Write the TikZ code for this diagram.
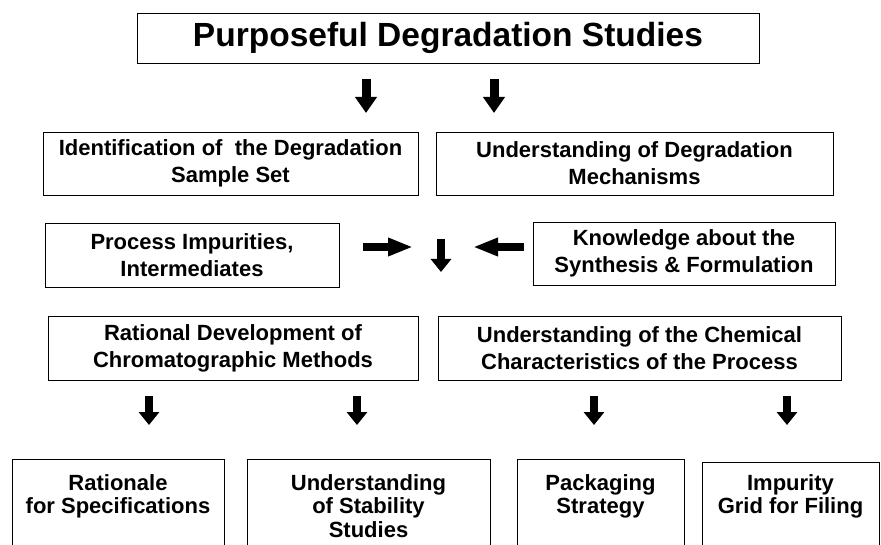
\documentclass[tikz,border=0pt]{standalone}
\usepackage{fontspec}
\setmainfont{Liberation Sans}
\usepackage{tikz}
\usetikzlibrary{arrows.meta, positioning}

\begin{document}
\begin{tikzpicture}[x=1pt, y=-1pt]
            %Block styles
            \tikzstyle{box} = [draw, line width=0.9pt, rectangle, align=center, inner sep=0pt, font=\fontsize{22}{27}\selectfont\bfseries]
            \tikzstyle{lowbox} = [draw, line width=0.9pt, rectangle, anchor=north, minimum height=110pt]
            \tikzstyle{lowtext} = [align=center, inner sep=0pt, font=\fontsize{22}{23.5}\selectfont\bfseries]
            \tikzstyle{headbox} = [box, font=\fontsize{33.5}{38}\selectfont\bfseries]

            %Arrow styles
            \tikzset{dnarrow/.style={line width=9pt, -{Triangle[width=21pt, length=16pt]}}}
            \tikzset{smallarrow/.style={line width=8.5pt, -{Triangle[width=20pt, length=13pt]}}}
            \tikzset{sidearrow/.style={line width=8pt, -{Triangle[width=17pt, length=25pt]}}}

            \useasboundingbox (0,0) rectangle (881,545);

            %Nodes
            \node[headbox, minimum width=622pt, minimum height=50pt] at (448,38) (title) {Purposeful Degradation Studies};

            \node[box, minimum width=375pt, minimum height=63pt] at (230.5,163.5) (idset) {Identification of\ \ the Degradation\\Sample Set};
            \node[box, minimum width=397pt, minimum height=63pt] at (634.5,163.5) (mech) {Understanding of Degradation\\Mechanisms};

            \node[box, minimum width=294pt, minimum height=64pt] at (192,255) (procimp) {Process Impurities,\\Intermediates};
            \node[box, minimum width=302pt, minimum height=63pt] at (684,253.5) (synth) {Knowledge about the\\Synthesis \& Formulation};

            \node[box, minimum width=370pt, minimum height=64pt] at (233,348) (ratdev) {Rational Development of\\Chromatographic Methods};
            \node[box, minimum width=403pt, minimum height=64pt] at (639.5,348) (chemchar) {Understanding of the Chemical\\Characteristics of the Process};

            %Bottom row, cut off by the page edge
            \node[lowbox, minimum width=212pt] at (118,459) (spec) {};
            \node[lowbox, minimum width=243pt] at (368.5,459) (stab) {};
            \node[lowbox, minimum width=167pt] at (600.5,459) (pack) {};
            \node[lowbox, minimum width=177pt] at (790.5,462) (grid) {};
            \node[lowtext, below=15pt of spec.north] (spectxt) {Rationale\\for Specifications};
            \node[lowtext, below=15pt of stab.north] (stabtxt) {Understanding\\of Stability\\Studies};
            \node[lowtext, below=15pt of pack.north] (packtxt) {Packaging\\Strategy};
            \node[lowtext, below=12pt of grid.north] (gridtxt) {Impurity\\Grid for Filing};

            %Arrow ends
            \coordinate (t1) at (366,79);
            \coordinate (t1e) at (366,113);
            \coordinate (t2) at (494,79);
            \coordinate (t2e) at (494,113);
            \coordinate (lin) at (363,247);
            \coordinate (line) at (413,247);
            \coordinate (rin) at (524,247);
            \coordinate (rine) at (473,247);
            \coordinate (mid) at (441,239);
            \coordinate (mide) at (441,272);

            \draw[dnarrow] (t1) -- (t1e);
            \draw[dnarrow] (t2) -- (t2e);
            \draw[sidearrow] (lin) -- (line);
            \draw[sidearrow] (rin) -- (rine);
            \draw[smallarrow] (mid) -- (mide);

            \foreach \x/\n in {149/b1, 357/b2, 594/b3, 787/b4} {
                \coordinate (\n) at (\x,396);
                \coordinate (\n e) at (\x,425);
                \draw[smallarrow] (\n) -- (\n e);
            }
        \end{tikzpicture}
\end{document}
